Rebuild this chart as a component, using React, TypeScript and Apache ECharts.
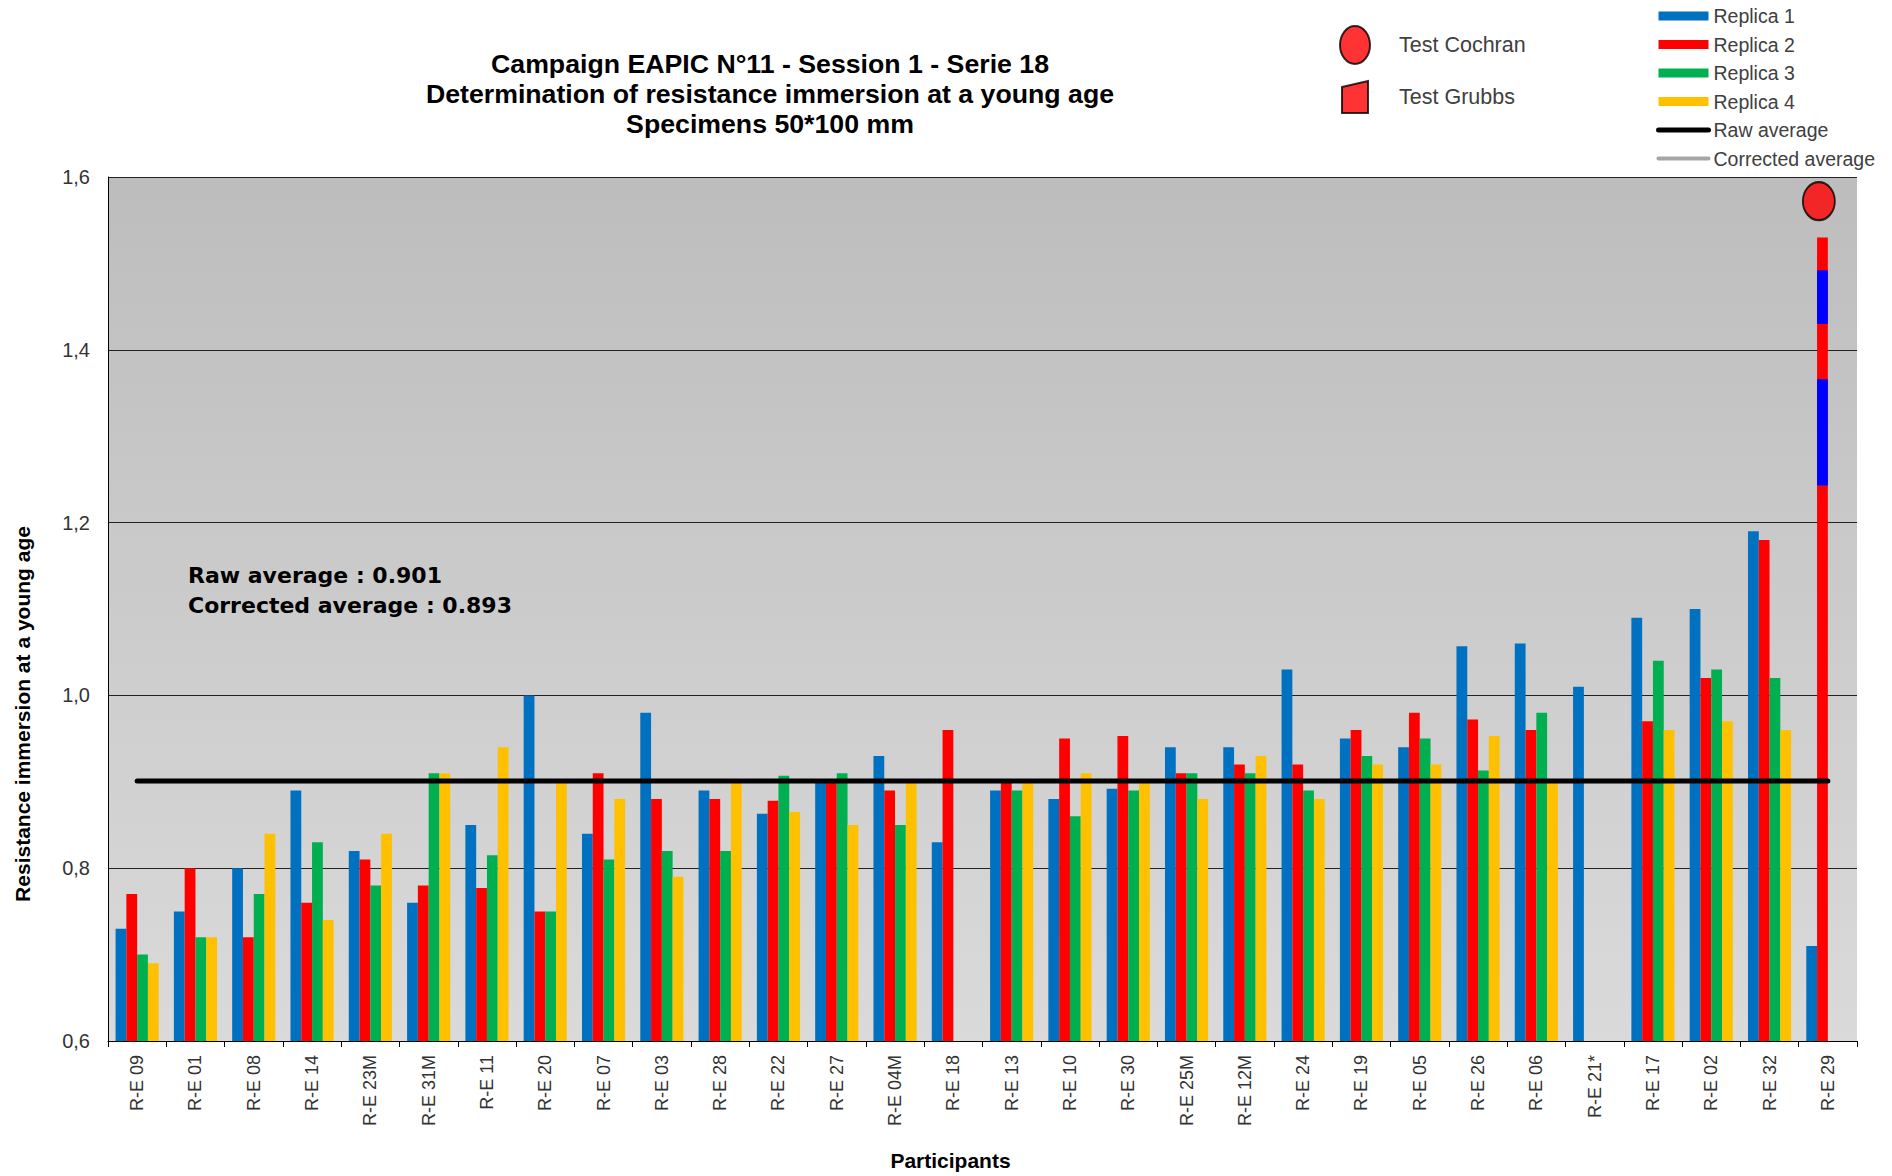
import React, { useEffect, useRef } from 'react';
import * as echarts from 'echarts';

// ---------- data ----------
const participants = [
  'R-E 09', 'R-E 01', 'R-E 08', 'R-E 14', 'R-E 23M', 'R-E 31M', 'R-E 11', 'R-E 20', 'R-E 07', 'R-E 03',
  'R-E 28', 'R-E 22', 'R-E 27', 'R-E 04M', 'R-E 18', 'R-E 13', 'R-E 10', 'R-E 30', 'R-E 25M', 'R-E 12M',
  'R-E 24', 'R-E 19', 'R-E 05', 'R-E 26', 'R-E 06', 'R-E 21*', 'R-E 17', 'R-E 02', 'R-E 32', 'R-E 29',
];

const replica1 = [0.73, 0.75, 0.80, 0.89, 0.82, 0.76, 0.85, 1.00, 0.84, 0.98, 0.89, 0.863, 0.90, 0.93, 0.83, 0.89, 0.88, 0.892, 0.94, 0.94, 1.03, 0.95, 0.94, 1.057, 1.06, 1.01, 1.09, 1.10, 1.19, 0.71];
const replica2 = [0.77, 0.80, 0.72, 0.76, 0.81, 0.78, 0.777, 0.75, 0.91, 0.88, 0.88, 0.878, 0.90, 0.89, 0.96, 0.90, 0.95, 0.953, 0.91, 0.92, 0.92, 0.96, 0.98, 0.972, 0.96, null, 0.97, 1.02, 1.18, 1.53];
const replica3 = [0.70, 0.72, 0.77, 0.83, 0.78, 0.91, 0.815, 0.75, 0.81, 0.82, 0.82, 0.907, 0.91, 0.85, null, 0.89, 0.86, 0.89, 0.91, 0.91, 0.89, 0.93, 0.95, 0.913, 0.98, null, 1.04, 1.03, 1.02, null];
const replica4 = [0.69, 0.72, 0.84, 0.74, 0.84, 0.91, 0.94, 0.90, 0.88, 0.79, 0.90, 0.865, 0.85, 0.90, null, 0.90, 0.91, 0.90, 0.88, 0.93, 0.88, 0.92, 0.92, 0.953, 0.90, null, 0.96, 0.97, 0.96, null];

// blue bands drawn over the Replica 2 bar of R-E 29
const overlayParticipant = 'R-E 29';
const overlaySegments = [
  [1.243, 1.366],
  [1.43, 1.492],
];

// outlier markers
const cochranMarkers = [{ participant: 'R-E 29', y: 1.572 }];
const grubbsMarkers: { participant: string; y: number }[] = [];

const rawAverage = 0.901;
const correctedAverage = 0.893;

const titleLines = [
  'Campaign EAPIC N°11 - Session 1 - Serie 18',
  'Determination of resistance immersion at a young age',
  'Specimens 50*100 mm',
];
const yAxisTitle = 'Resistance immersion at a young age';
const xAxisTitle = 'Participants';
const yTicks = { min: 0.6, max: 1.6, interval: 0.2 };

// ---------- styles ----------
const FONT = '"Liberation Sans", Arial, sans-serif';
const CAT_GAP = 0.26;
const COLORS = ['#0070C0', '#FF0000', '#00B050', '#FFC000'];
const ELLIPSE = 'path://M0,19A15,19 0 1 1 30,19A15,19 0 1 1 0,19Z';
const TRAPEZE = 'path://M-4,-3M30,35M0,6L26,0L26,32L0,32Z';

export default function App() {
  const ref = useRef<HTMLDivElement>(null);

  useEffect(() => {
    const chart = echarts.init(ref.current!, null, { renderer: 'svg' });
    const overlayIndex = participants.indexOf(overlayParticipant);
    const replicas = [replica1, replica2, replica3, replica4];

    const barSeries = replicas.map((data, i) => ({
      name: `Replica ${i + 1}`,
      type: 'bar',
      data,
      barCategoryGap: `${CAT_GAP * 100}%`,
      barGap: '0%',
      itemStyle: { color: COLORS[i] },
      z: 2,
    }));

    const option: any = {
      animation: false,
      backgroundColor: '#ffffff',
      textStyle: { fontFamily: FONT },
      title: {
        text: titleLines.join('\n'),
        left: 770,
        top: 49,
        padding: 0,
        textAlign: 'center',
        textStyle: { fontFamily: FONT, fontSize: 26.7, fontWeight: 'bold', lineHeight: 30, color: '#000' },
      },
      legend: [
        {
          data: ['Test Cochran', 'Test Grubbs'],
          orient: 'vertical',
          left: 1332,
          top: 20,
          itemWidth: 34,
          itemHeight: 38,
          itemGap: 12,
          selectedMode: false,
          textStyle: { fontFamily: FONT, fontSize: 21.5, color: '#404040', padding: [0, 0, 0, 22] },
        },
        {
          data: [
            { name: 'Replica 1', icon: 'rect' },
            { name: 'Replica 2', icon: 'rect' },
            { name: 'Replica 3', icon: 'rect' },
            { name: 'Replica 4', icon: 'rect' },
            { name: 'Raw average', itemStyle: { opacity: 0 }, lineStyle: { width: 5, cap: 'round', color: '#000' } },
            { name: 'Corrected average', itemStyle: { opacity: 0 }, lineStyle: { width: 4, cap: 'round', color: '#A6A6A6' } },
          ],
          orient: 'vertical',
          left: 1651,
          top: 0.5,
          itemWidth: 50,
          itemHeight: 9,
          itemGap: 7.5,
          selectedMode: false,
          textStyle: { fontFamily: FONT, fontSize: 19.5, lineHeight: 21, color: '#404040' },
        },
      ],
      grid: {
        left: 108,
        right: 35,
        top: 177,
        bottom: 132,
        show: true,
        borderWidth: 0,
        backgroundColor: new echarts.graphic.LinearGradient(0, 0, 0, 1, [
          { offset: 0, color: '#BDBDBD' },
          { offset: 1, color: '#DADADA' },
        ]),
      },
      xAxis: {
        type: 'category',
        data: participants,
        name: xAxisTitle,
        nameLocation: 'middle',
        nameGap: 109,
        nameTextStyle: { fontFamily: FONT, fontSize: 21, fontWeight: 'bold', color: '#000', padding: [0, 64, 0, 0] },
        axisLine: { show: true, lineStyle: { color: '#000', width: 1 } },
        axisTick: { show: true, length: 6, lineStyle: { color: '#000' } },
        axisLabel: { rotate: 90, interval: 0, fontSize: 18, margin: 14, color: '#333', fontFamily: FONT },
      },
      yAxis: {
        type: 'value',
        min: yTicks.min,
        max: yTicks.max,
        interval: yTicks.interval,
        name: yAxisTitle,
        nameLocation: 'middle',
        nameRotate: 90,
        nameGap: 75,
        nameTextStyle: { fontFamily: FONT, fontSize: 21, fontWeight: 'bold', color: '#000', padding: [0, 210, 0, 0] },
        axisLine: { show: true, lineStyle: { color: '#000', width: 1 } },
        axisTick: { show: false },
        splitLine: { show: true, lineStyle: { color: '#222', width: 1.2 } },
        axisLabel: {
          fontSize: 20,
          margin: 18,
          color: '#333',
          fontFamily: FONT,
          formatter: (v: number) => v.toFixed(1).replace('.', ','),
        },
      },
      graphic: [
        {
          type: 'text',
          left: 188,
          top: 560,
          z: 10,
          style: {
            text: `Raw average : ${rawAverage.toFixed(3)}\nCorrected average : ${correctedAverage.toFixed(3)}`,
            font: 'bold 22px "DejaVu Sans"',
            lineHeight: 30,
            fill: '#000',
          },
        },
      ],
      series: [
        ...barSeries,
        {
          name: 'overlay',
          type: 'custom',
          data: overlaySegments.map(([a, b]) => [overlayIndex, a, b]),
          encode: { x: 0, y: [1, 2] },
          z: 3,
          renderItem: (_params: any, api: any) => {
            const idx = api.value(0);
            const lo = api.coord([idx, api.value(1)]);
            const hi = api.coord([idx, api.value(2)]);
            const band = api.size([1, 0])[0];
            const bw = (band * (1 - CAT_GAP)) / 4;
            return {
              type: 'rect',
              shape: { x: lo[0] - bw, y: hi[1], width: bw, height: lo[1] - hi[1] },
              style: { fill: '#0000FF' },
            };
          },
        },
        {
          name: 'Raw average',
          type: 'line',
          data: participants.map(() => rawAverage),
          symbol: 'none',
          lineStyle: { color: '#000', width: 5, cap: 'round' },
          itemStyle: { color: '#000', opacity: 0 },
          z: 4,
        },
        {
          name: 'Corrected average',
          type: 'line',
          data: [],
          symbol: 'none',
          lineStyle: { color: '#A6A6A6', width: 4, cap: 'round' },
          itemStyle: { color: '#A6A6A6', opacity: 0 },
          z: 4,
        },
        {
          name: 'Test Cochran',
          type: 'scatter',
          data: cochranMarkers.map((m) => [m.participant, m.y]),
          symbol: ELLIPSE,
          symbolSize: [32, 38],
          symbolOffset: [-9, 0],
          itemStyle: { color: '#FF0000', borderColor: '#000', borderWidth: 2 },
          z: 5,
        },
        {
          name: 'Test Grubbs',
          type: 'scatter',
          data: grubbsMarkers.map((m) => [m.participant, m.y]),
          symbol: TRAPEZE,
          symbolSize: [26, 32],
          itemStyle: { color: '#FF0000', borderColor: '#000', borderWidth: 2 },
          z: 5,
        },
      ],
    };

    chart.setOption(option);
    return () => chart.dispose();
  }, []);

  return (
    <div
      ref={ref}
      style={{ position: 'fixed', left: 0, top: 0, width: 1892, height: 1176 }}
    />
  );
}
